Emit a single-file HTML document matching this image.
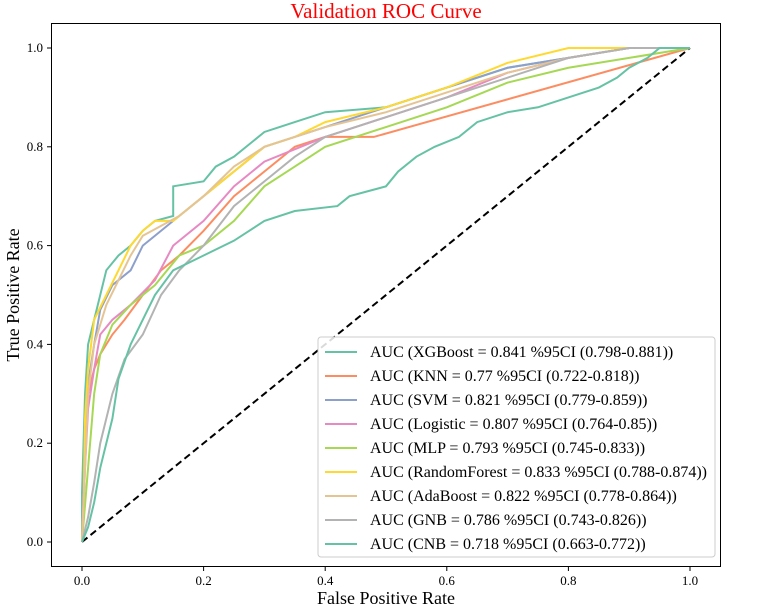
<!DOCTYPE html>
<html><head><meta charset="utf-8"><style>
body{margin:0;background:#fff}
svg text{font-family:"Liberation Serif",serif}
</style></head><body>
<svg id="chart" width="759" height="607" viewBox="0 0 759 607" xmlns="http://www.w3.org/2000/svg">
<text x="386" y="18" text-anchor="middle" font-size="21" fill="#ff0000">Validation ROC Curve</text>
<rect x="51.5" y="23.5" width="669" height="543" fill="none" stroke="#000" stroke-width="1"/>
<g id="ticks"></g>
<line x1="82" y1="542" x2="690" y2="48" stroke="#000" stroke-width="2" stroke-dasharray="7,4"/>
<g id="curves"></g>
<text x="386" y="604" text-anchor="middle" font-size="18">False Positive Rate</text>
<text transform="translate(19,295) rotate(-90)" text-anchor="middle" font-size="18">True Positive Rate</text>
<g id="legend"></g>
</svg>
<script>
const ticks=[0,0.2,0.4,0.6,0.8,1.0];
const tickLabels=["0.0","0.2","0.4","0.6","0.8","1.0"];
const names=["XGBoost","KNN","SVM","Logistic","MLP","RandomForest","AdaBoost","GNB","CNB"];
const legendLabels=["AUC (XGBoost = 0.841 %95CI (0.798-0.881))","AUC (KNN = 0.77 %95CI (0.722-0.818))","AUC (SVM = 0.821 %95CI (0.779-0.859))","AUC (Logistic = 0.807 %95CI (0.764-0.85))","AUC (MLP = 0.793 %95CI (0.745-0.833))","AUC (RandomForest = 0.833 %95CI (0.788-0.874))","AUC (AdaBoost = 0.822 %95CI (0.778-0.864))","AUC (GNB = 0.786 %95CI (0.743-0.826))","AUC (CNB = 0.718 %95CI (0.663-0.772))"];
const colors=["#66c2a5","#fc8d62","#8da0cb","#e78ac3","#a6d854","#ffd92f","#e5c494","#b3b3b3","#66c2a5"];
const fprXGB=[0,0,0.005,0.01,0.02,0.03,0.04,0.06,0.08,0.1,0.12,0.15,0.15,0.2,0.22,0.25,0.3,0.35,0.4,0.5,0.6,0.7,0.8,0.9,1];
const tprXGB=[0,0.1,0.3,0.4,0.45,0.5,0.55,0.58,0.6,0.63,0.65,0.66,0.72,0.73,0.76,0.78,0.83,0.85,0.87,0.88,0.92,0.96,0.98,1,1];
const fprKNN=[0,0.005,0.01,0.02,0.03,0.05,0.07,0.1,0.13,0.16,0.2,0.25,0.3,0.35,0.4,0.48,1];
const tprKNN=[0,0.2,0.3,0.35,0.38,0.42,0.45,0.5,0.55,0.58,0.63,0.7,0.75,0.8,0.82,0.82,1];
const fprSVM=[0,0.005,0.01,0.02,0.03,0.05,0.08,0.1,0.12,0.15,0.2,0.25,0.3,0.4,0.5,0.6,0.7,0.8,0.9,1];
const tprSVM=[0,0.2,0.32,0.4,0.47,0.52,0.55,0.6,0.62,0.65,0.7,0.75,0.8,0.84,0.88,0.92,0.96,0.98,1,1];
const fprLR=[0,0.005,0.01,0.02,0.03,0.05,0.08,0.12,0.15,0.2,0.25,0.3,0.4,0.5,0.6,0.7,0.8,0.9,1];
const tprLR=[0,0.15,0.27,0.35,0.42,0.45,0.48,0.53,0.6,0.65,0.72,0.77,0.82,0.86,0.9,0.95,0.98,1,1];
const fprMLP=[0,0.01,0.02,0.03,0.05,0.08,0.12,0.16,0.2,0.25,0.3,0.35,0.4,0.5,0.6,0.7,0.8,0.9,1];
const tprMLP=[0,0.15,0.3,0.38,0.44,0.48,0.52,0.58,0.6,0.65,0.72,0.76,0.8,0.84,0.88,0.93,0.96,0.98,1];
const fprRF=[0,0.003,0.005,0.01,0.02,0.04,0.06,0.08,0.1,0.12,0.15,0.18,0.25,0.3,0.35,0.4,0.5,0.6,0.7,0.8,1];
const tprRF=[0,0.1,0.25,0.35,0.45,0.5,0.55,0.6,0.63,0.65,0.65,0.68,0.75,0.8,0.82,0.85,0.88,0.92,0.97,1,1];
const fprADA=[0,0.005,0.01,0.02,0.04,0.06,0.08,0.1,0.13,0.16,0.2,0.25,0.3,0.4,0.5,0.6,0.7,0.8,0.9,1];
const tprADA=[0,0.15,0.3,0.4,0.48,0.53,0.58,0.62,0.64,0.66,0.7,0.76,0.8,0.84,0.87,0.91,0.95,0.98,1,1];
const fprGNB=[0,0.01,0.02,0.03,0.05,0.07,0.1,0.13,0.16,0.2,0.25,0.3,0.35,0.4,0.5,0.6,0.7,0.8,0.9,1];
const tprGNB=[0,0.05,0.12,0.2,0.3,0.37,0.42,0.5,0.55,0.6,0.68,0.73,0.78,0.82,0.86,0.9,0.94,0.98,1,1];
const fprCNB=[0,0.01,0.02,0.03,0.05,0.06,0.08,0.1,0.12,0.15,0.2,0.25,0.3,0.35,0.42,0.44,0.47,0.5,0.52,0.55,0.58,0.62,0.65,0.7,0.75,0.8,0.85,0.88,0.9,0.93,0.95,1];
const tprCNB=[0,0.03,0.08,0.15,0.25,0.33,0.4,0.45,0.5,0.55,0.58,0.61,0.65,0.67,0.68,0.7,0.71,0.72,0.75,0.78,0.8,0.82,0.85,0.87,0.88,0.9,0.92,0.94,0.96,0.98,1,1];
const fprs=[fprXGB,fprKNN,fprSVM,fprLR,fprMLP,fprRF,fprADA,fprGNB,fprCNB];
const tprs=[tprXGB,tprKNN,tprSVM,tprLR,tprMLP,tprRF,tprADA,tprGNB,tprCNB];
const NS="http://www.w3.org/2000/svg";
function xs(v){return 82+608*v;}
function ys(v){return 542-494*v;}
const tg=document.getElementById('ticks');
ticks.forEach((t,i)=>{
  let l=document.createElementNS(NS,'line');
  
  
  l.setAttribute('x1',xs(t));l.setAttribute('x2',xs(t));l.setAttribute('y1',567);l.setAttribute('y2',571);l.setAttribute('stroke','#000');tg.appendChild(l);
  let tx=document.createElementNS(NS,'text');
  
  
  tx.setAttribute('x',xs(t));tx.setAttribute('y',585);tx.setAttribute('text-anchor','middle');tx.setAttribute('font-size','13');tx.textContent=tickLabels[i];tg.appendChild(tx);
  let l2=document.createElementNS(NS,'line');
  
  
  l2.setAttribute('x1',47);l2.setAttribute('x2',51);l2.setAttribute('y1',ys(t));l2.setAttribute('y2',ys(t));l2.setAttribute('stroke','#000');tg.appendChild(l2);
  let ty=document.createElementNS(NS,'text');
  
  
  ty.setAttribute('x',43);ty.setAttribute('y',ys(t)+4);ty.setAttribute('text-anchor','end');ty.setAttribute('font-size','13');ty.textContent=tickLabels[i];tg.appendChild(ty);
});
const cg=document.getElementById('curves');
names.forEach((n,k)=>{
  const f=fprs[k],t=tprs[k];
  let d='M'+xs(f[0])+' '+ys(t[0]);
  for(let i=1;i<f.length;i++){d+=' L'+xs(f[i])+' '+ys(t[i]);}
  let p=document.createElementNS(NS,'path');
  
  
  p.setAttribute('d',d);p.setAttribute('fill','none');p.setAttribute('stroke',colors[k]);p.setAttribute('stroke-width','2');
  cg.appendChild(p);
});
const lg=document.getElementById('legend');
let box=document.createElementNS(NS,'rect');


box.setAttribute('x',318);box.setAttribute('y',337);box.setAttribute('width',397);box.setAttribute('height',220);box.setAttribute('rx',3);
box.setAttribute('fill','#fff');box.setAttribute('fill-opacity','0.85');box.setAttribute('stroke','#ccc');lg.appendChild(box);
legendLabels.forEach((s,k)=>{
  const y=352+k*24;
  let l=document.createElementNS(NS,'line');
  
  
  l.setAttribute('x1',325);l.setAttribute('x2',357);l.setAttribute('y1',y);l.setAttribute('y2',y);l.setAttribute('stroke',colors[k]);l.setAttribute('stroke-width','2');lg.appendChild(l);
  let tx=document.createElementNS(NS,'text');
  
  
  tx.setAttribute('x',370);tx.setAttribute('y',y+5);tx.setAttribute('font-size','16');tx.textContent=s;lg.appendChild(tx);
});
</script>
</body></html>
